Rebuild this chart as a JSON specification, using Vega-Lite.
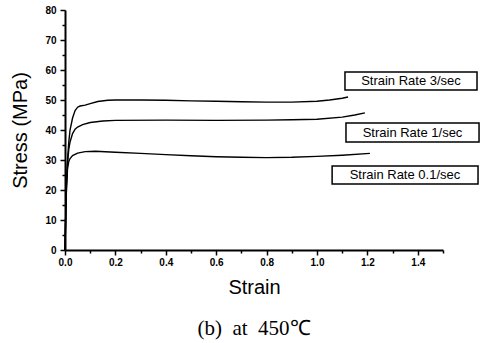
{
  "$schema": "https://vega.github.io/schema/vega-lite/v6.json",
  "width": 378,
  "height": 240,
  "autosize": {"type": "none"},
  "padding": {"left": 65, "top": 10, "right": 45, "bottom": 93},
  "background": "white",
  "config": {
    "view": {"stroke": null},
    "axis": {
      "grid": false,
      "domainColor": "black",
      "domainWidth": 2,
      "tickColor": "black",
      "tickWidth": 1.5,
      "labelFont": "Liberation Sans",
      "labelFontWeight": "bold",
      "labelFontSize": 10,
      "labelColor": "black",
      "labelOverlap": false,
      "labelFlush": false,
      "titleFont": "Liberation Sans",
      "titleFontSize": 20,
      "titleFontWeight": "normal",
      "titleColor": "black"
    },
    "axisX": {"labelPadding": 2, "titlePadding": 10},
    "axisY": {"labelPadding": 4, "titlePadding": 14}
  },
  "title": {
    "text": "(b)\u00a0 at\u00a0 450℃",
    "orient": "bottom",
    "font": "Liberation Serif",
    "fontSize": 21,
    "fontWeight": "normal",
    "color": "black",
    "offset": 21
  },
  "datasets": {
    "curves": [
      {"rate": "3/sec", "strain": 0, "stress": 0},
      {"rate": "3/sec", "strain": 0.003, "stress": 12},
      {"rate": "3/sec", "strain": 0.006, "stress": 22},
      {"rate": "3/sec", "strain": 0.01, "stress": 30},
      {"rate": "3/sec", "strain": 0.015, "stress": 36},
      {"rate": "3/sec", "strain": 0.02, "stress": 40},
      {"rate": "3/sec", "strain": 0.03, "stress": 44},
      {"rate": "3/sec", "strain": 0.04, "stress": 46.5},
      {"rate": "3/sec", "strain": 0.05, "stress": 47.6},
      {"rate": "3/sec", "strain": 0.06, "stress": 48},
      {"rate": "3/sec", "strain": 0.08, "stress": 48.3},
      {"rate": "3/sec", "strain": 0.1, "stress": 48.8},
      {"rate": "3/sec", "strain": 0.13, "stress": 49.5},
      {"rate": "3/sec", "strain": 0.17, "stress": 49.9},
      {"rate": "3/sec", "strain": 0.2, "stress": 50},
      {"rate": "3/sec", "strain": 0.3, "stress": 50},
      {"rate": "3/sec", "strain": 0.4, "stress": 49.9},
      {"rate": "3/sec", "strain": 0.5, "stress": 49.7},
      {"rate": "3/sec", "strain": 0.6, "stress": 49.6},
      {"rate": "3/sec", "strain": 0.7, "stress": 49.4},
      {"rate": "3/sec", "strain": 0.8, "stress": 49.3},
      {"rate": "3/sec", "strain": 0.9, "stress": 49.3},
      {"rate": "3/sec", "strain": 1.0, "stress": 49.6},
      {"rate": "3/sec", "strain": 1.05, "stress": 50},
      {"rate": "3/sec", "strain": 1.1, "stress": 50.6},
      {"rate": "3/sec", "strain": 1.123, "stress": 51},
      {"rate": "1/sec", "strain": 0, "stress": 0},
      {"rate": "1/sec", "strain": 0.003, "stress": 12},
      {"rate": "1/sec", "strain": 0.006, "stress": 22},
      {"rate": "1/sec", "strain": 0.01, "stress": 29},
      {"rate": "1/sec", "strain": 0.015, "stress": 33.5},
      {"rate": "1/sec", "strain": 0.02, "stress": 36},
      {"rate": "1/sec", "strain": 0.03, "stress": 38.8},
      {"rate": "1/sec", "strain": 0.04, "stress": 40.3},
      {"rate": "1/sec", "strain": 0.05, "stress": 41},
      {"rate": "1/sec", "strain": 0.07, "stress": 41.8},
      {"rate": "1/sec", "strain": 0.1, "stress": 42.5},
      {"rate": "1/sec", "strain": 0.15, "stress": 43},
      {"rate": "1/sec", "strain": 0.2, "stress": 43.2},
      {"rate": "1/sec", "strain": 0.4, "stress": 43.3},
      {"rate": "1/sec", "strain": 0.6, "stress": 43.2},
      {"rate": "1/sec", "strain": 0.8, "stress": 43.3},
      {"rate": "1/sec", "strain": 0.9, "stress": 43.4},
      {"rate": "1/sec", "strain": 1.0, "stress": 43.6},
      {"rate": "1/sec", "strain": 1.1, "stress": 44.3},
      {"rate": "1/sec", "strain": 1.15, "stress": 45},
      {"rate": "1/sec", "strain": 1.19, "stress": 45.7},
      {"rate": "0.1/sec", "strain": 0, "stress": 0},
      {"rate": "0.1/sec", "strain": 0.003, "stress": 12},
      {"rate": "0.1/sec", "strain": 0.006, "stress": 21},
      {"rate": "0.1/sec", "strain": 0.01, "stress": 27},
      {"rate": "0.1/sec", "strain": 0.015, "stress": 29.5},
      {"rate": "0.1/sec", "strain": 0.02, "stress": 30.5},
      {"rate": "0.1/sec", "strain": 0.03, "stress": 31.5},
      {"rate": "0.1/sec", "strain": 0.05, "stress": 32.3},
      {"rate": "0.1/sec", "strain": 0.08, "stress": 32.8},
      {"rate": "0.1/sec", "strain": 0.12, "stress": 32.9},
      {"rate": "0.1/sec", "strain": 0.2, "stress": 32.6},
      {"rate": "0.1/sec", "strain": 0.3, "stress": 32.2},
      {"rate": "0.1/sec", "strain": 0.4, "stress": 31.8},
      {"rate": "0.1/sec", "strain": 0.5, "stress": 31.4},
      {"rate": "0.1/sec", "strain": 0.6, "stress": 31.1},
      {"rate": "0.1/sec", "strain": 0.7, "stress": 30.9},
      {"rate": "0.1/sec", "strain": 0.8, "stress": 30.8},
      {"rate": "0.1/sec", "strain": 0.9, "stress": 30.9},
      {"rate": "0.1/sec", "strain": 1.0, "stress": 31.2},
      {"rate": "0.1/sec", "strain": 1.1, "stress": 31.6},
      {"rate": "0.1/sec", "strain": 1.21, "stress": 32.2}
    ],
    "labels": [
      {"label": "Strain Rate 3/sec", "x0": 1.111, "x1": 1.635, "y0": 59.3, "y1": 53.3, "xc": 1.373, "yc": 56.3},
      {"label": "Strain Rate 1/sec", "x0": 1.115, "x1": 1.643, "y0": 42.3, "y1": 36.0, "xc": 1.379, "yc": 39.15},
      {"label": "Strain Rate 0.1/sec", "x0": 1.06, "x1": 1.639, "y0": 28.0, "y1": 22.0, "xc": 1.349, "yc": 25.0}
    ]
  },
  "layer": [
    {
      "data": {"name": "curves"},
      "mark": {"type": "line", "color": "black", "strokeWidth": 1.4},
      "encoding": {
        "x": {
          "field": "strain",
          "type": "quantitative",
          "scale": {"domain": [0, 1.5], "nice": false, "zero": false},
          "axis": {
            "title": "Strain",
            "values": [0, 0.1, 0.2, 0.3, 0.4, 0.5, 0.6, 0.7, 0.8, 0.9, 1.0, 1.1, 1.2, 1.3, 1.4, 1.5],
            "labelExpr": "round(datum.value*10) % 2 == 0 && datum.value < 1.45 ? format(datum.value, '.1f') : ''",
            "tickSize": {"condition": {"test": "round(datum.value*10) % 2 == 0", "value": 5}, "value": 3}
          }
        },
        "y": {
          "field": "stress",
          "type": "quantitative",
          "scale": {"domain": [0, 80], "nice": false},
          "axis": {
            "title": "Stress (MPa)",
            "values": [0, 5, 10, 15, 20, 25, 30, 35, 40, 45, 50, 55, 60, 65, 70, 75, 80],
            "labelExpr": "datum.value % 10 == 0 ? datum.value : ''",
            "tickSize": {"condition": {"test": "datum.value % 10 == 0", "value": 5}, "value": 3}
          }
        },
        "detail": {"field": "rate", "type": "nominal"}
      }
    },
    {
      "data": {"name": "labels"},
      "mark": {"type": "rect", "fill": "white", "stroke": "black", "strokeWidth": 1.5},
      "encoding": {
        "x": {
          "field": "x0",
          "type": "quantitative",
          "axis": {
            "title": "Strain",
            "values": [0, 0.1, 0.2, 0.3, 0.4, 0.5, 0.6, 0.7, 0.8, 0.9, 1.0, 1.1, 1.2, 1.3, 1.4, 1.5],
            "labelExpr": "round(datum.value*10) % 2 == 0 && datum.value < 1.45 ? format(datum.value, '.1f') : ''",
            "tickSize": {"condition": {"test": "round(datum.value*10) % 2 == 0", "value": 5}, "value": 3}
          }
        },
        "x2": {"field": "x1"},
        "y": {
          "field": "y0",
          "type": "quantitative",
          "axis": {
            "title": "Stress (MPa)",
            "values": [0, 5, 10, 15, 20, 25, 30, 35, 40, 45, 50, 55, 60, 65, 70, 75, 80],
            "labelExpr": "datum.value % 10 == 0 ? datum.value : ''",
            "tickSize": {"condition": {"test": "datum.value % 10 == 0", "value": 5}, "value": 3}
          }
        },
        "y2": {"field": "y1"}
      }
    },
    {
      "data": {"name": "labels"},
      "mark": {"type": "text", "font": "Liberation Sans", "fontSize": 13, "color": "black", "align": "center", "baseline": "middle"},
      "encoding": {
        "x": {
          "field": "xc",
          "type": "quantitative",
          "axis": {
            "title": "Strain",
            "values": [0, 0.1, 0.2, 0.3, 0.4, 0.5, 0.6, 0.7, 0.8, 0.9, 1.0, 1.1, 1.2, 1.3, 1.4, 1.5],
            "labelExpr": "round(datum.value*10) % 2 == 0 && datum.value < 1.45 ? format(datum.value, '.1f') : ''",
            "tickSize": {"condition": {"test": "round(datum.value*10) % 2 == 0", "value": 5}, "value": 3}
          }
        },
        "y": {
          "field": "yc",
          "type": "quantitative",
          "axis": {
            "title": "Stress (MPa)",
            "values": [0, 5, 10, 15, 20, 25, 30, 35, 40, 45, 50, 55, 60, 65, 70, 75, 80],
            "labelExpr": "datum.value % 10 == 0 ? datum.value : ''",
            "tickSize": {"condition": {"test": "datum.value % 10 == 0", "value": 5}, "value": 3}
          }
        },
        "text": {"field": "label"}
      }
    }
  ]
}
